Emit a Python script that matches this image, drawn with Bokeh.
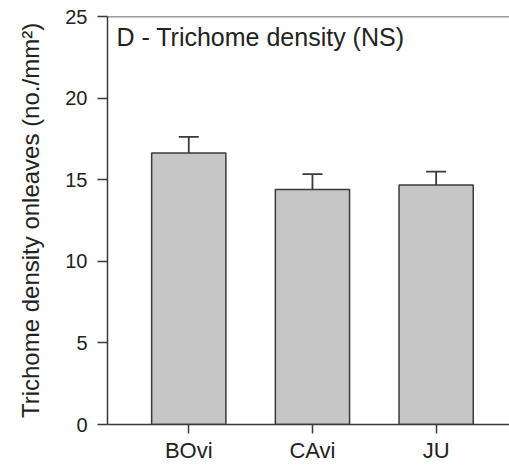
from bokeh.plotting import figure
from bokeh.models import Range1d, FixedTicker, ColumnDataSource, Whisker, TeeHead, Span, Label
from bokeh.embed import file_html
from bokeh.resources import INLINE

categories = ["BOvi", "CAvi", "JU"]
means = [16.63, 14.40, 14.67]
errors = [1.00, 0.94, 0.83]
y_ticks = [0, 5, 10, 15, 20, 25]

xs = [i + 1 for i in range(len(categories))]
upper = [m + e for m, e in zip(means, errors)]
src = ColumnDataSource(dict(x=xs, top=means, upper=upper))

FONT = "Liberation Sans"
TXT = "#222222"
LINE = "#3a3a3a"

p = figure(width=509, height=465, output_backend="svg", toolbar_location=None,
           x_range=Range1d(0.343, 3.593), y_range=Range1d(0, 25),
           min_border_left=107, min_border_right=0, min_border_top=16, min_border_bottom=41)
p.outline_line_color = None
p.grid.grid_line_color = None
p.background_fill_color = "white"

p.vbar(x="x", top="top", width=0.6, bottom=0, source=src,
       fill_color="#c6c6c6", line_color=LINE, line_width=1.5)

wh = Whisker(base="x", lower="top", upper="upper", source=src,
             line_color=LINE, line_width=1.8,
             upper_head=TeeHead(size=20, line_color=LINE, line_width=1.8),
             lower_head=None)
p.add_layout(wh)

p.add_layout(Span(location=25, dimension="width", line_color=LINE, line_width=1.5))

p.xaxis.ticker = FixedTicker(ticks=xs)
p.xaxis.major_label_overrides = {x: c for x, c in zip(xs, categories)}
p.xaxis.major_tick_in = 0
p.xaxis.major_tick_out = 9
p.xaxis.minor_tick_line_color = None
p.xaxis.major_label_standoff = 4
p.xaxis.major_label_text_font = FONT
p.xaxis.major_label_text_font_size = "22px"
p.xaxis.major_label_text_color = TXT

p.yaxis.ticker = FixedTicker(ticks=y_ticks)
p.yaxis.major_tick_in = 0
p.yaxis.major_tick_out = 10
p.yaxis.minor_tick_line_color = None
p.yaxis.major_label_standoff = 10
p.yaxis.major_label_text_font = FONT
p.yaxis.major_label_text_font_size = "20px"
p.yaxis.major_label_text_color = TXT
p.yaxis.axis_label = "Trichome density onleaves (no./mm²)"
p.yaxis.axis_label_text_font = FONT
p.yaxis.axis_label_text_font_style = "normal"
p.yaxis.axis_label_text_font_size = "24px"
p.yaxis.axis_label_text_color = TXT
p.yaxis.axis_label_standoff = 18

for ax in (p.xaxis, p.yaxis):
    ax.axis_line_color = LINE
    ax.axis_line_width = 1.5
    ax.major_tick_line_color = LINE
    ax.major_tick_line_width = 1.5

p.add_layout(Label(x=0.415, y=23.76, text="D - Trichome density (NS)",
                   text_font=FONT, text_font_size="25px", text_color=TXT,
                   text_baseline="middle", text_align="left"))

open("out.html", "w").write(file_html(p, INLINE))
